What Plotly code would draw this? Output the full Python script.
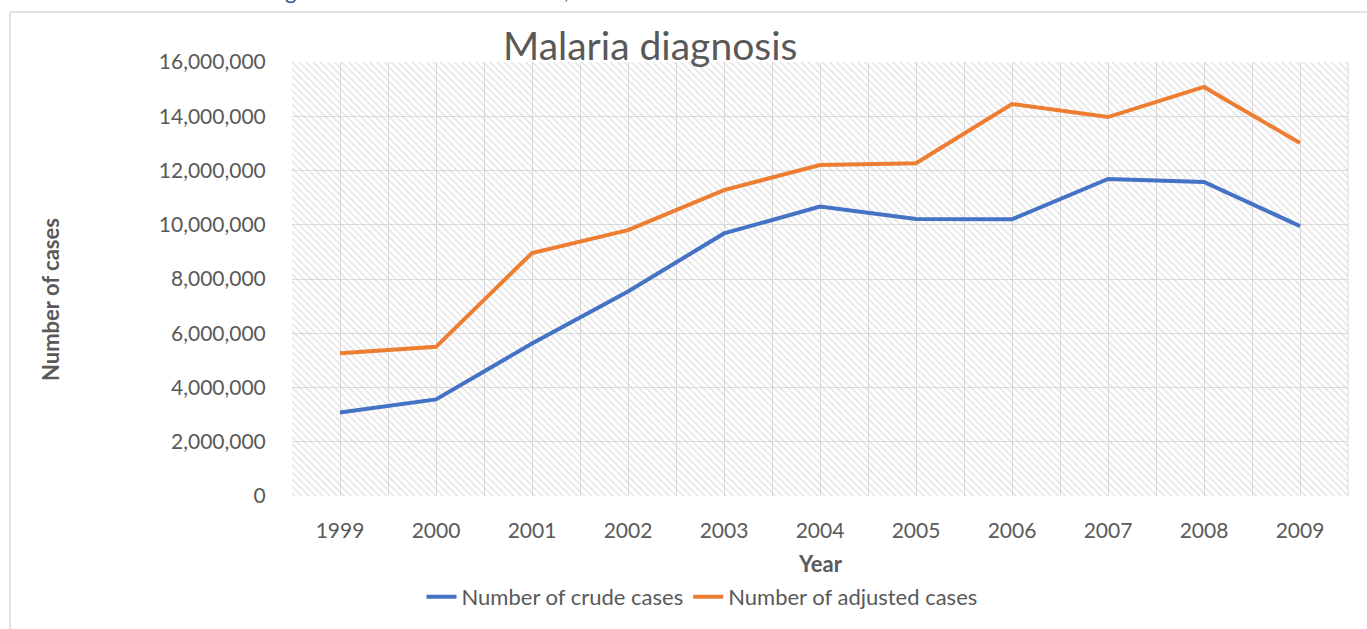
import plotly.graph_objects as go

years = [1999, 2000, 2001, 2002, 2003, 2004, 2005, 2006, 2007, 2008, 2009]
crude_cases = [3080000, 3560000, 5620000, 7540000, 9680000, 10670000, 10210000, 10200000, 11690000, 11580000, 9950000]
adjusted_cases = [5260000, 5500000, 8960000, 9800000, 11280000, 12200000, 12270000, 14450000, 13970000, 15080000, 13010000]
y_ticks = [0, 2000000, 4000000, 6000000, 8000000, 10000000, 12000000, 14000000, 16000000]

W, H = 1367, 629
L, R, T, B = 292, 1348, 62, 496
pw, ph = R - L, B - T

def px(x):
    return (x - L) / pw

def py(y):
    return (B - y) / ph

FONT = "Lato"
GRAY = "#595959"

fig = go.Figure()

# hatched plot-area background
x_lo, x_hi = years[0] - 0.5, years[-1] + 0.5
y_hi = y_ticks[-1]
fig.add_trace(go.Scatter(
    x=[x_lo, x_hi, x_hi, x_lo, x_lo], y=[0, 0, y_hi, y_hi, 0],
    mode="none", fill="toself", fillcolor="rgba(0,0,0,0)",
    fillpattern=dict(shape="\\", fgcolor="#c9c9c9", bgcolor="rgba(0,0,0,0)", size=5, solidity=0.3),
    showlegend=False, hoverinfo="skip"))

fig.add_trace(go.Scatter(x=years, y=crude_cases, mode="lines", name="Number of crude cases",
                         line=dict(color="#4472C4", width=4)))
fig.add_trace(go.Scatter(x=years, y=adjusted_cases, mode="lines", name="Number of adjusted cases",
                         line=dict(color="#ED7D31", width=4)))

fig.update_layout(
    width=W, height=H,
    margin=dict(l=L, r=W - R, t=T, b=H - B, autoexpand=False),
    paper_bgcolor="white", plot_bgcolor="white",
    font=dict(family=FONT, color=GRAY, size=21),
    showlegend=True,
    legend=dict(orientation="h", x=px(702), xanchor="center", y=py(597), yanchor="middle",
                font=dict(size=22, color=GRAY), tracegroupgap=0,
                bgcolor="rgba(0,0,0,0)"),
    xaxis=dict(range=[x_lo, x_hi], tickvals=years, ticktext=[str(y) for y in years],
               showgrid=True, gridcolor="#dcdcdc", gridwidth=1,
               minor=dict(dtick=1, tick0=x_lo, showgrid=True, gridcolor="#dcdcdc", gridwidth=1),
               ticks="outside", ticklen=16, tickcolor="rgba(0,0,0,0)",
               showline=False, zeroline=False, fixedrange=True,
               tickfont=dict(size=21, color=GRAY)),
    yaxis=dict(range=[0, y_hi], tickvals=y_ticks, tickformat=",d",
               showgrid=True, gridcolor="#dcdcdc", gridwidth=1,
               ticks="outside", ticklen=21, tickcolor="rgba(0,0,0,0)",
               showline=False, zeroline=False, fixedrange=True,
               tickfont=dict(size=21, color=GRAY)),
)

# frame edges of the embedded chart box
fig.add_shape(type="line", xref="paper", yref="paper", x0=px(10), x1=px(10), y0=py(12), y1=py(640),
              line=dict(color="#d9d9d9", width=1.5))
fig.add_shape(type="line", xref="paper", yref="paper", x0=px(10), x1=px(1380), y0=py(12), y1=py(12),
              line=dict(color="#d9d9d9", width=1.5))
# right plot edge line
fig.add_shape(type="line", xref="paper", yref="paper", x0=1, x1=1, y0=0, y1=1,
              line=dict(color="#dcdcdc", width=1))

fig.add_annotation(text="Malaria diagnosis", xref="paper", yref="paper", x=px(650), y=py(45),
                   xanchor="center", yanchor="middle", showarrow=False,
                   font=dict(size=39, color=GRAY, family=FONT))
fig.add_annotation(text="<b>Number of cases</b>", xref="paper", yref="paper", x=px(50), y=py(300),
                   xanchor="center", yanchor="middle", textangle=-90, showarrow=False,
                   font=dict(size=22, color=GRAY, family=FONT))
fig.add_annotation(text="<b>Year</b>", xref="paper", yref="paper", x=px(820), y=py(563),
                   xanchor="center", yanchor="middle", showarrow=False,
                   font=dict(size=22, color=GRAY, family=FONT))

# cut-off caption text from the page above the chart (clipped in the reference too)
for ch, cx in [("g", 290), (",", 566)]:
    fig.add_annotation(text=ch, xref="paper", yref="paper", x=px(cx), y=py(6),
                       xanchor="center", yanchor="bottom", showarrow=False,
                       font=dict(size=22, color="#2F5597", family=FONT))

fig.write_html("out.html", config={"displayModeBar": False},
               post_script="document.body.style.margin='0';document.body.style.overflow='hidden';")
